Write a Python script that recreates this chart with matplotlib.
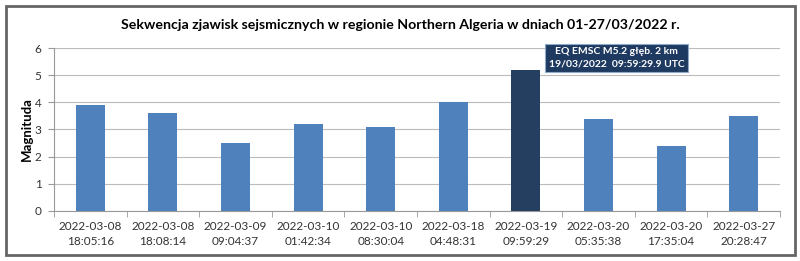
import numpy as np
import matplotlib.pyplot as plt
from matplotlib.patches import Rectangle

labels = ['2022-03-08\n18:05:16', '2022-03-08\n18:08:14', '2022-03-09\n09:04:37',
          '2022-03-10\n01:42:34', '2022-03-10\n08:30:04', '2022-03-18\n04:48:31',
          '2022-03-19\n09:59:29', '2022-03-20\n05:35:38', '2022-03-20\n17:35:04',
          '2022-03-27\n20:28:47']
mags = [3.9, 3.6, 2.5, 3.2, 3.1, 4.0, 5.2, 3.4, 2.4, 3.5]
highlight = 6
note = 'EQ EMSC M5.2 głęb. 2 km\n19/03/2022  09:59:29.9 UTC'

plt.rcParams['font.family'] = ['Lato', 'DejaVu Sans']

fig = plt.figure(figsize=(8, 2.61), dpi=100)
ax = fig.add_axes([0.0675, 0.192, 0.9075, 0.624])

x = np.arange(len(mags))
colors = ['#4F81BD'] * len(mags)
colors[highlight] = '#243F60'
ax.bar(x, mags, width=0.4, color=colors, zorder=3)

ax.set_xlim(-0.5, len(mags) - 0.5)
ax.set_ylim(0, 6)
ax.set_yticks(range(7))
ax.set_xticks(x)
ax.set_xticklabels(labels, fontsize=8.5, color='#333333', linespacing=1.5)
ax.tick_params(axis='x', length=0, pad=7)
ax.set_xticks(np.arange(-0.5, len(mags)), minor=True)
ax.tick_params(axis='x', which='minor', length=4, color='#999999')
ax.tick_params(axis='y', length=4, color='#999999', labelsize=8.5, labelcolor='#333333', pad=5)
ax.grid(axis='y', color='#BBBBBB', linewidth=0.8, zorder=0)
for s in ['top', 'right']:
    ax.spines[s].set_visible(False)
for s in ['left', 'bottom']:
    ax.spines[s].set_color('#999999')
ax.set_ylabel('Magnituda', fontsize=9.5, fontweight='bold', labelpad=1)

ax.text(highlight + 1.25, 5.63, note, ha='center', va='center', fontsize=7.5,
        fontweight='bold', color='white', linespacing=1.45, zorder=5,
        bbox=dict(boxstyle='square,pad=0.35', fc='#1F3A60', ec='#8DA9CC', lw=0.8))

fig.text(0.5, 0.905, 'Sekwencja zjawisk sejsmicznych w regionie Northern Algeria w dniach 01-27/03/2022 r.',
         ha='center', va='center', fontsize=10.2, fontweight='bold')

fig.patches.append(Rectangle((6 / 800, 6 / 261), 789 / 800, 249 / 261, transform=fig.transFigure,
                             fill=False, ec='#666666', lw=2))

fig.savefig('out.png', dpi=100)
